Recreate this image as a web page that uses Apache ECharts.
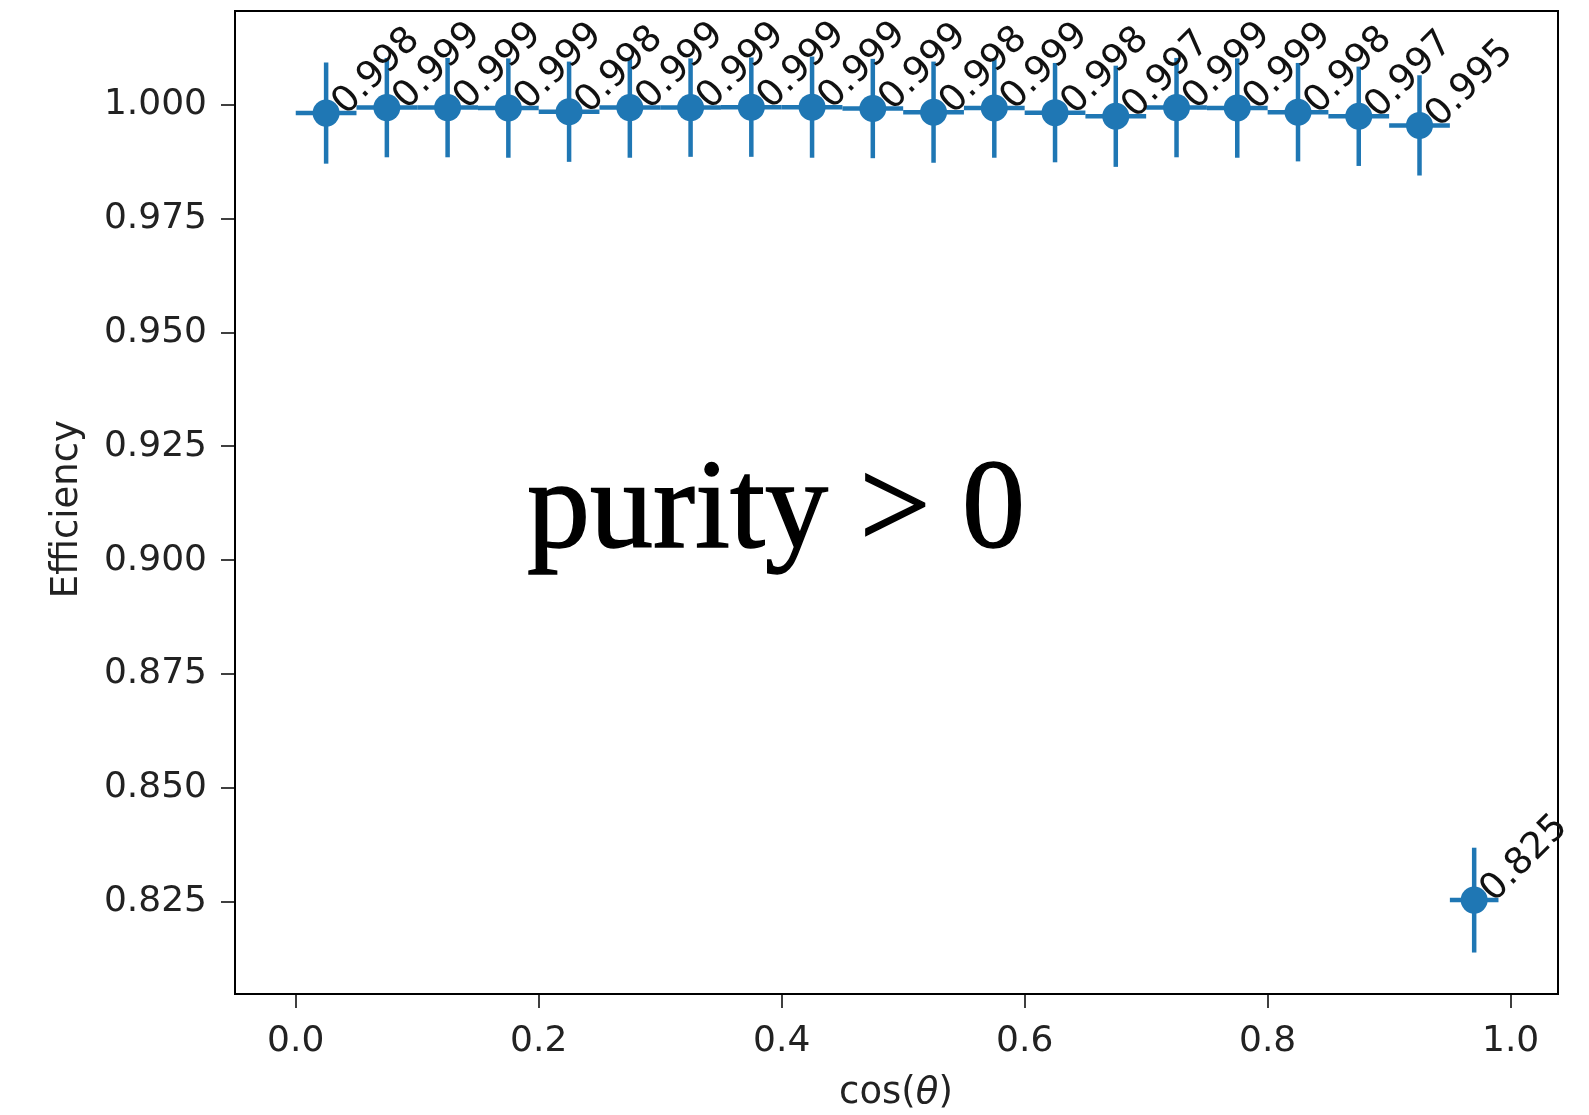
<!DOCTYPE html>
<html>
<head>
<meta charset="utf-8">
<script src="https://cdn.jsdelivr.net/npm/echarts@6/dist/echarts.min.js"></script>
<style>
  html, body { margin: 0; padding: 0; background: #fff; }
  #chart { width: 1589px; height: 1115px; }
</style>
</head>
<body>
<div id="chart"></div>
<script>
// bin centres and half widths along cos(theta)
var xCenters = [0.025, 0.075, 0.125, 0.175, 0.225, 0.275, 0.325, 0.375, 0.425, 0.475,
                0.525, 0.575, 0.625, 0.675, 0.725, 0.775, 0.825, 0.875, 0.925, 0.97];
var xErrors = [0.025, 0.025, 0.025, 0.025, 0.025, 0.025, 0.025, 0.025, 0.025, 0.025,
               0.025, 0.025, 0.025, 0.025, 0.025, 0.025, 0.025, 0.025, 0.025, 0.02];
// efficiency per bin
var effValues = [0.9981, 0.9993, 0.9993, 0.9992, 0.9984, 0.9993, 0.9993, 0.9994, 0.9994, 0.9991,
                 0.9983, 0.9992, 0.9982, 0.9974, 0.9993, 0.9992, 0.9983, 0.9974, 0.9954, 0.8254];
var effErrors = [0.0111, 0.0109, 0.0109, 0.0109, 0.0110, 0.0110, 0.0108, 0.0109, 0.0111, 0.0109,
                 0.0111, 0.0109, 0.0109, 0.0111, 0.0109, 0.0109, 0.0108, 0.0109, 0.0110, 0.0115];
var xTicks = [0.0, 0.2, 0.4, 0.6, 0.8, 1.0];
var yTicks = [0.825, 0.850, 0.875, 0.900, 0.925, 0.950, 0.975, 1.000];

var blue = '#1f77b4';
var points = [];
for (var i = 0; i < xCenters.length; i++) {
  points.push([xCenters[i], effValues[i], xErrors[i], effErrors[i]]);
}

var myChart = echarts.init(document.getElementById('chart'));
myChart.setOption({
  animation: false,
  grid: {
    left: 235, right: 31, top: 11, bottom: 121,
    show: true, borderColor: '#000', borderWidth: 2, backgroundColor: '#fff'
  },
  xAxis: {
    type: 'value',
    min: -0.05, max: 1.039,
    splitLine: { show: false },
    axisLine: { show: true, onZero: false, lineStyle: { color: '#000', width: 2 } },
    axisTick: { show: true, length: 14, customValues: xTicks, lineStyle: { color: '#000', width: 1.5 } },
    axisLabel: {
      customValues: xTicks, margin: 30,
      fontFamily: 'DejaVu Sans', fontSize: 36, color: '#222',
      formatter: function (v) { return v.toFixed(1); }
    }
  },
  yAxis: {
    type: 'value',
    min: 0.8048, max: 1.0205,
    splitLine: { show: false },
    axisLine: { show: true, onZero: false, lineStyle: { color: '#000', width: 2 } },
    axisTick: { show: true, length: 14, customValues: yTicks, lineStyle: { color: '#000', width: 1.5 } },
    axisLabel: {
      customValues: yTicks, margin: 28,
      fontFamily: 'DejaVu Sans', fontSize: 36, color: '#222',
      formatter: function (v) { return v.toFixed(3); }
    }
  },
  graphic: [
    {
      type: 'text', left: 49, top: 420, rotation: Math.PI / 2,
      style: { text: 'Efficiency', font: '37px "DejaVu Sans"', fill: '#222' }
    },
    {
      type: 'text', x: 896, y: 1093,
      style: {
        text: 'cos({i|\u03b8})', font: '37px "DejaVu Sans"', fill: '#222', align: 'center', verticalAlign: 'middle',
        rich: { i: { fontStyle: 'italic', fontFamily: 'DejaVu Sans', fontSize: 37, fill: '#222' } }
      }
    },
    {
      type: 'text', x: 776, y: 514,
      style: {
        text: 'purity > 0', font: '126px "Liberation Serif"', fill: '#000',
        stroke: '#000', lineWidth: 1.5, align: 'center', verticalAlign: 'middle'
      }
    }
  ],
  series: [
    {
      // error bars
      type: 'custom',
      data: points,
      z: 2,
      renderItem: function (params, api) {
        var x = api.value(0), y = api.value(1), ex = api.value(2), ey = api.value(3);
        var l = api.coord([x - ex, y]), r = api.coord([x + ex, y]);
        var t = api.coord([x, y + ey]), b = api.coord([x, y - ey]);
        var st = { stroke: blue, lineWidth: 4.5 };
        return {
          type: 'group',
          children: [
            { type: 'line', shape: { x1: l[0], y1: l[1], x2: r[0], y2: r[1] }, style: st },
            { type: 'line', shape: { x1: t[0], y1: t[1], x2: b[0], y2: b[1] }, style: st }
          ]
        };
      }
    },
    {
      type: 'scatter',
      data: points,
      z: 3,
      symbol: 'circle',
      symbolSize: 27,
      itemStyle: { color: blue, opacity: 1 },
      label: {
        show: true,
        position: 'inside',
        align: 'left',
        verticalAlign: 'bottom',
        rotate: 45,
        offset: [12, 25],
        fontFamily: 'DejaVu Sans',
        fontSize: 37,
        color: '#111',
        formatter: function (p) { return p.value[1].toFixed(3); }
      }
    }
  ]
});
</script>
</body>
</html>
